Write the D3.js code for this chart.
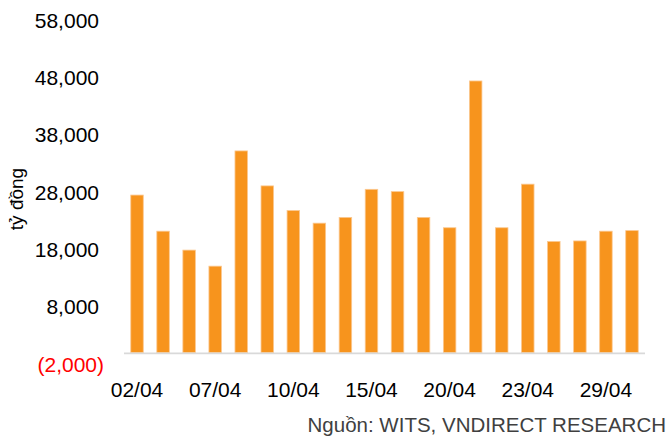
<!DOCTYPE html>
<html>
<head>
<meta charset="utf-8">
<script src="https://cdnjs.cloudflare.com/ajax/libs/d3/7.8.5/d3.min.js"></script>
<style>
  body { margin: 0; background: #ffffff; }
  svg { display: block; font-family: "Liberation Sans", Arial, sans-serif; }
</style>
</head>
<body>
<div id="chart"></div>
<script>
// data
var dates = ["02/04", "03/04", "06/04", "07/04", "08/04", "09/04", "10/04", "13/04", "14/04", "15/04",
             "16/04", "17/04", "20/04", "21/04", "22/04", "23/04", "24/04", "27/04", "29/04", "30/04"];
var values = [27500, 21200, 17900, 15100, 35200, 29100, 24800, 22600, 23600, 28500,
              28100, 23600, 21800, 47400, 21800, 29400, 19400, 19500, 21200, 21300];
var yTicks = [-2000, 8000, 18000, 28000, 38000, 48000, 58000];
var xLabels = ["02/04", "07/04", "10/04", "15/04", "20/04", "23/04", "29/04"];

var svgWidth = 671;
var svgHeight = 442;

var svg = d3.select("#chart")
  .append("svg")
  .attr("width", svgWidth)
  .attr("height", svgHeight);

// scales
var x = d3.scaleBand()
  .domain(dates)
  .range([124, 645])
  .paddingInner(0.52)
  .paddingOuter(0.26);

var y = d3.scaleLinear()
  .domain([-2000, 58000])
  .range([364.2, 20.2]);

var fmt = d3.format(",");

// y tick labels (negative one gets brackets, closing bracket hangs past the edge)
svg.append("g")
  .selectAll("text")
  .data(yTicks)
  .enter()
  .append("text")
    .attr("x", function(d) { return d < 0 ? 104 : 99; })
    .attr("y", function(d) { return y(d); })
    .attr("dy", "0.36em")
    .attr("text-anchor", "end")
    .style("font-size", "21px")
    .attr("fill", function(d) { return d < 0 ? "#ff0000" : "#000000"; })
    .text(function(d) { return d < 0 ? "(" + fmt(-d) + ")" : fmt(d); });

// bars
svg.append("g")
  .selectAll("rect")
  .data(values)
  .enter()
  .append("rect")
    .attr("x", function(d, i) { return x(dates[i]); })
    .attr("y", function(d) { return y(d); })
    .attr("width", x.bandwidth())
    .attr("height", function(d) { return y(0) - y(d); })
    .attr("fill", "#f7941d")
    .attr("stroke", "#fbc890")
    .attr("stroke-width", 0.8);

// zero line
svg.append("line")
  .attr("x1", 124)
  .attr("x2", 645)
  .attr("y1", y(0) + 0.6)
  .attr("y2", y(0) + 0.6)
  .attr("stroke", "#d9d9d9")
  .attr("stroke-width", 1.6);

// x labels
svg.append("g")
  .selectAll("text")
  .data(xLabels)
  .enter()
  .append("text")
    .attr("x", function(d) { return x(d) + x.bandwidth() / 2; })
    .attr("y", 396.5)
    .attr("text-anchor", "middle")
    .style("font-size", "21px")
    .attr("fill", "#000000")
    .text(function(d) { return d; });

// y axis title
svg.append("text")
  .attr("transform", "translate(23,199) rotate(-90)")
  .attr("text-anchor", "middle")
  .style("font-size", "19px")
  .attr("fill", "#000000")
  .text("tỷ đồng");

// source note
svg.append("text")
  .attr("x", 666)
  .attr("y", 432)
  .attr("text-anchor", "end")
  .style("font-size", "20.5px")
  .attr("fill", "#404040")
  .text("Nguồn: WITS, VNDIRECT RESEARCH");
</script>
</body>
</html>
